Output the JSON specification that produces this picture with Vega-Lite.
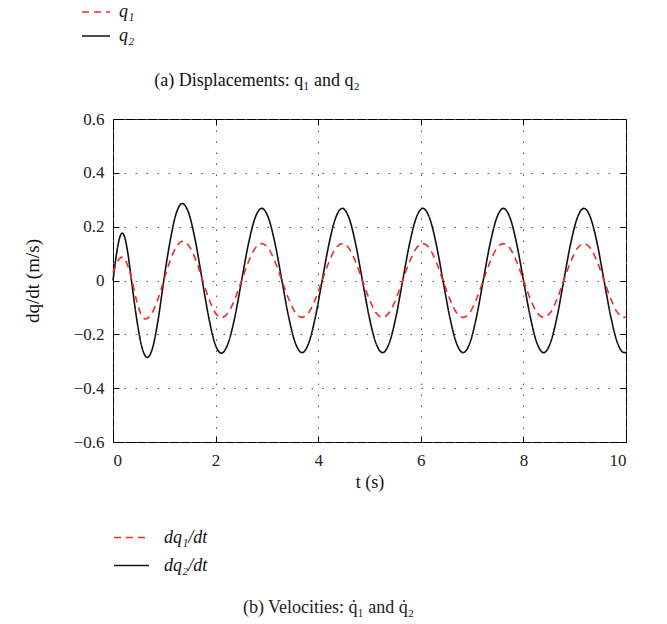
{
  "$schema": "https://vega.github.io/schema/vega-lite/v6.json",
  "width": 513,
  "height": 323,
  "autosize": {"type": "none"},
  "padding": {"left": 113, "top": 119, "right": 41, "bottom": 182},
  "background": "white",
  "config": {
    "font": "Liberation Serif",
    "view": {"stroke": "#000", "strokeWidth": 1},
    "axis": {
      "labelFont": "Liberation Serif",
      "labelFontSize": 17,
      "labelColor": "#222",
      "titleFont": "Liberation Serif",
      "titleFontSize": 18,
      "titleFontWeight": "normal",
      "titleColor": "#111",
      "domain": false,
      "tickColor": "#000",
      "tickSize": -6,
      "tickWidth": 1,
      "gridColor": "#555",
      "gridDash": [1.5, 9.5],
      "gridWidth": 1,
      "gridOpacity": 1
    },
    "legend": {
      "labelFont": "Liberation Serif",
      "labelFontSize": 18,
      "labelFontStyle": "italic",
      "labelColor": "#111",
      "padding": 0
    }
  },
  "data": {
    "values": [
      {"t": 0, "v": 0, "s": "2"}, {"t": 0.06, "v": 0.088, "s": "2"}, {"t": 0.12, "v": 0.152, "s": "2"}, {"t": 0.18, "v": 0.176, "s": "2"},
      {"t": 0.24, "v": 0.152, "s": "2"}, {"t": 0.30, "v": 0.088, "s": "2"}, {"t": 0.36, "v": 0, "s": "2"}, {"t": 0.462, "v": -0.143, "s": "2"},
      {"t": 0.564, "v": -0.248, "s": "2"}, {"t": 0.667, "v": -0.286, "s": "2"}, {"t": 0.775, "v": -0.248, "s": "2"}, {"t": 0.882, "v": -0.143, "s": "2"},
      {"t": 0.99, "v": 0, "s": "2"}, {"t": 1.11, "v": 0.143, "s": "2"}, {"t": 1.23, "v": 0.248, "s": "2"}, {"t": 1.35, "v": 0.286, "s": "2"},
      {"t": 1.48, "v": 0.248, "s": "2"}, {"t": 1.61, "v": 0.143, "s": "2"}, {"t": 1.74, "v": 0, "s": "2"}, {"t": 1.865, "v": -0.136, "s": "2"},
      {"t": 1.99, "v": -0.236, "s": "2"},
      {"t": 2.115, "v": -0.27, "s": "2"}, {"t": 2.246, "v": -0.232, "s": "2"}, {"t": 2.377, "v": -0.134, "s": "2"}, {"t": 2.507, "v": 0, "s": "2"},
      {"t": 2.638, "v": 0.134, "s": "2"}, {"t": 2.769, "v": 0.232, "s": "2"}, {"t": 2.9, "v": 0.268, "s": "2"}, {"t": 3.031, "v": 0.232, "s": "2"},
      {"t": 3.162, "v": 0.134, "s": "2"}, {"t": 3.292, "v": 0, "s": "2"}, {"t": 3.423, "v": -0.134, "s": "2"}, {"t": 3.554, "v": -0.232, "s": "2"},
      {"t": 3.685, "v": -0.268, "s": "2"}, {"t": 3.816, "v": -0.232, "s": "2"}, {"t": 3.947, "v": -0.134, "s": "2"}, {"t": 4.077, "v": 0, "s": "2"},
      {"t": 4.208, "v": 0.134, "s": "2"}, {"t": 4.339, "v": 0.232, "s": "2"}, {"t": 4.47, "v": 0.268, "s": "2"}, {"t": 4.601, "v": 0.232, "s": "2"},
      {"t": 4.732, "v": 0.134, "s": "2"}, {"t": 4.862, "v": 0, "s": "2"}, {"t": 4.993, "v": -0.134, "s": "2"}, {"t": 5.124, "v": -0.232, "s": "2"},
      {"t": 5.255, "v": -0.268, "s": "2"}, {"t": 5.386, "v": -0.232, "s": "2"}, {"t": 5.517, "v": -0.134, "s": "2"}, {"t": 5.647, "v": 0, "s": "2"},
      {"t": 5.778, "v": 0.134, "s": "2"}, {"t": 5.909, "v": 0.232, "s": "2"}, {"t": 6.04, "v": 0.268, "s": "2"}, {"t": 6.171, "v": 0.232, "s": "2"},
      {"t": 6.302, "v": 0.134, "s": "2"}, {"t": 6.432, "v": 0, "s": "2"}, {"t": 6.563, "v": -0.134, "s": "2"}, {"t": 6.694, "v": -0.232, "s": "2"},
      {"t": 6.825, "v": -0.268, "s": "2"}, {"t": 6.956, "v": -0.232, "s": "2"}, {"t": 7.087, "v": -0.134, "s": "2"}, {"t": 7.217, "v": 0, "s": "2"},
      {"t": 7.348, "v": 0.134, "s": "2"}, {"t": 7.479, "v": 0.232, "s": "2"}, {"t": 7.61, "v": 0.268, "s": "2"}, {"t": 7.741, "v": 0.232, "s": "2"},
      {"t": 7.872, "v": 0.134, "s": "2"}, {"t": 8.002, "v": 0, "s": "2"}, {"t": 8.133, "v": -0.134, "s": "2"}, {"t": 8.264, "v": -0.232, "s": "2"},
      {"t": 8.395, "v": -0.268, "s": "2"}, {"t": 8.526, "v": -0.232, "s": "2"}, {"t": 8.657, "v": -0.134, "s": "2"}, {"t": 8.787, "v": 0, "s": "2"},
      {"t": 8.918, "v": 0.134, "s": "2"}, {"t": 9.049, "v": 0.232, "s": "2"}, {"t": 9.18, "v": 0.268, "s": "2"}, {"t": 9.311, "v": 0.232, "s": "2"},
      {"t": 9.442, "v": 0.134, "s": "2"}, {"t": 9.572, "v": 0, "s": "2"}, {"t": 9.703, "v": -0.134, "s": "2"}, {"t": 9.834, "v": -0.232, "s": "2"},
      {"t": 9.965, "v": -0.268, "s": "2"}, {"t": 10, "v": -0.267, "s": "2"},

      {"t": 0, "v": 0.03, "s": "1"}, {"t": 0.06, "v": 0.058, "s": "1"}, {"t": 0.12, "v": 0.08, "s": "1"}, {"t": 0.18, "v": 0.087, "s": "1"},
      {"t": 0.243, "v": 0.075, "s": "1"}, {"t": 0.307, "v": 0.044, "s": "1"}, {"t": 0.37, "v": 0, "s": "1"}, {"t": 0.457, "v": -0.072, "s": "1"},
      {"t": 0.543, "v": -0.124, "s": "1"}, {"t": 0.63, "v": -0.143, "s": "1"}, {"t": 0.75, "v": -0.124, "s": "1"}, {"t": 0.87, "v": -0.072, "s": "1"},
      {"t": 0.99, "v": 0, "s": "1"}, {"t": 1.113, "v": 0.073, "s": "1"}, {"t": 1.237, "v": 0.126, "s": "1"}, {"t": 1.36, "v": 0.146, "s": "1"},
      {"t": 1.49, "v": 0.126, "s": "1"}, {"t": 1.62, "v": 0.073, "s": "1"}, {"t": 1.75, "v": 0, "s": "1"}, {"t": 1.872, "v": -0.069, "s": "1"},
      {"t": 1.993, "v": -0.12, "s": "1"},
      {"t": 2.115, "v": -0.138, "s": "1"}, {"t": 2.246, "v": -0.119, "s": "1"}, {"t": 2.377, "v": -0.068, "s": "1"}, {"t": 2.507, "v": 0, "s": "1"},
      {"t": 2.638, "v": 0.068, "s": "1"}, {"t": 2.769, "v": 0.119, "s": "1"}, {"t": 2.9, "v": 0.137, "s": "1"}, {"t": 3.031, "v": 0.119, "s": "1"},
      {"t": 3.162, "v": 0.068, "s": "1"}, {"t": 3.292, "v": 0, "s": "1"}, {"t": 3.423, "v": -0.068, "s": "1"}, {"t": 3.554, "v": -0.119, "s": "1"},
      {"t": 3.685, "v": -0.137, "s": "1"}, {"t": 3.816, "v": -0.119, "s": "1"}, {"t": 3.947, "v": -0.068, "s": "1"}, {"t": 4.077, "v": 0, "s": "1"},
      {"t": 4.208, "v": 0.068, "s": "1"}, {"t": 4.339, "v": 0.119, "s": "1"}, {"t": 4.47, "v": 0.137, "s": "1"}, {"t": 4.601, "v": 0.119, "s": "1"},
      {"t": 4.732, "v": 0.068, "s": "1"}, {"t": 4.862, "v": 0, "s": "1"}, {"t": 4.993, "v": -0.068, "s": "1"}, {"t": 5.124, "v": -0.119, "s": "1"},
      {"t": 5.255, "v": -0.137, "s": "1"}, {"t": 5.386, "v": -0.119, "s": "1"}, {"t": 5.517, "v": -0.068, "s": "1"}, {"t": 5.647, "v": 0, "s": "1"},
      {"t": 5.778, "v": 0.068, "s": "1"}, {"t": 5.909, "v": 0.119, "s": "1"}, {"t": 6.04, "v": 0.137, "s": "1"}, {"t": 6.171, "v": 0.119, "s": "1"},
      {"t": 6.302, "v": 0.068, "s": "1"}, {"t": 6.432, "v": 0, "s": "1"}, {"t": 6.563, "v": -0.068, "s": "1"}, {"t": 6.694, "v": -0.119, "s": "1"},
      {"t": 6.825, "v": -0.137, "s": "1"}, {"t": 6.956, "v": -0.119, "s": "1"}, {"t": 7.087, "v": -0.068, "s": "1"}, {"t": 7.217, "v": 0, "s": "1"},
      {"t": 7.348, "v": 0.068, "s": "1"}, {"t": 7.479, "v": 0.119, "s": "1"}, {"t": 7.61, "v": 0.137, "s": "1"}, {"t": 7.741, "v": 0.119, "s": "1"},
      {"t": 7.872, "v": 0.068, "s": "1"}, {"t": 8.002, "v": 0, "s": "1"}, {"t": 8.133, "v": -0.068, "s": "1"}, {"t": 8.264, "v": -0.119, "s": "1"},
      {"t": 8.395, "v": -0.137, "s": "1"}, {"t": 8.526, "v": -0.119, "s": "1"}, {"t": 8.657, "v": -0.068, "s": "1"}, {"t": 8.787, "v": 0, "s": "1"},
      {"t": 8.918, "v": 0.068, "s": "1"}, {"t": 9.049, "v": 0.119, "s": "1"}, {"t": 9.18, "v": 0.137, "s": "1"}, {"t": 9.311, "v": 0.119, "s": "1"},
      {"t": 9.442, "v": 0.068, "s": "1"}, {"t": 9.572, "v": 0, "s": "1"}, {"t": 9.703, "v": -0.068, "s": "1"}, {"t": 9.834, "v": -0.119, "s": "1"},
      {"t": 9.965, "v": -0.137, "s": "1"}, {"t": 10, "v": -0.136, "s": "1"}
    ]
  },
  "layer": [
    {
      "mark": {"type": "line", "strokeWidth": 1.6, "interpolate": "monotone"},
      "encoding": {
        "x": {
          "field": "t", "type": "quantitative",
          "scale": {"domain": [0, 10], "nice": false, "zero": false},
          "axis": {"orient": "bottom", "values": [0, 2, 4, 6, 8, 10], "format": "d", "grid": true, "labelPadding": 16,
                   "title": "t (s)", "titleFontSize": 18, "titleY": 40, "titleBaseline": "middle"}
        },
        "y": {
          "field": "v", "type": "quantitative",
          "scale": {"domain": [-0.6, 0.6], "nice": false, "zero": false},
          "axis": {"orient": "left", "values": [-0.6, -0.4, -0.2, 0, 0.2, 0.4, 0.6], "format": ".1~f", "grid": true, "labelPadding": 15,
                   "title": "dq/dt  (m/s)", "titleFontSize": 19, "titleX": -81, "titleY": 161.5, "titleBaseline": "middle", "titleAngle": -90}
        },
        "color": {
          "field": "s", "type": "nominal",
          "scale": {"domain": ["1", "2"], "range": ["#f22a2a", "#111111"]},
          "legend": {"title": null, "orient": "none", "legendX": 0, "legendY": 400, "symbolType": "stroke", "symbolSize": 1225,
                     "symbolStrokeWidth": 1.5, "labelOffset": 14, "rowPadding": 0,
                     "labelExpr": "datum.value == '1' ? 'dq₁/dt' : 'dq₂/dt'"}
        },
        "strokeDash": {
          "field": "s", "type": "nominal",
          "scale": {"domain": ["1", "2"], "range": [[7, 5], [1, 0]]},
          "legend": {"title": null, "orient": "none", "legendX": 0, "legendY": 400, "symbolType": "stroke", "symbolSize": 1225,
                     "symbolStrokeWidth": 1.5, "labelOffset": 14, "rowPadding": 0,
                     "labelExpr": "datum.value == '1' ? 'dq₁/dt' : 'dq₂/dt'"}
        }
      }
    },
    {
      "mark": {"type": "line", "strokeWidth": 1.6, "interpolate": "monotone", "opacity": 0},
      "encoding": {
        "x": {
          "field": "t", "type": "quantitative",
          "axis": {"orient": "top", "values": [0, 2, 4, 6, 8, 10], "labels": false, "grid": false,
                   "title": "(a)  Displacements: q₁ and q₂", "titleFontSize": 18, "titleX": 143.5, "titleY": -39, "titleBaseline": "middle", "titleAnchor": null, "titleAlign": "center"}
        },
        "y": {
          "field": "v", "type": "quantitative",
          "axis": {"orient": "right", "values": [-0.6, -0.4, -0.2, 0, 0.2, 0.4, 0.6], "labels": false, "grid": false, "title": null}
        },
        "color": {
          "field": "s", "type": "nominal",
          "scale": {"domain": ["1", "2"], "range": ["#f22a2a", "#111111"]},
          "legend": {"title": null, "orient": "none", "legendX": -32, "legendY": -122, "symbolType": "stroke", "symbolSize": 784,
                     "symbolStrokeWidth": 1.5, "labelOffset": 8, "rowPadding": -2,
                     "labelExpr": "datum.value == '1' ? 'q₁' : 'q₂'",
                     "encode": {"symbols": {"update": {"opacity": {"value": 1}}}}}
        },
        "strokeDash": {
          "field": "s", "type": "nominal",
          "scale": {"domain": ["1", "2"], "range": [[7, 5], [1, 0]]},
          "legend": {"title": null, "orient": "none", "legendX": -32, "legendY": -122, "symbolType": "stroke", "symbolSize": 784,
                     "symbolStrokeWidth": 1.5, "labelOffset": 8, "rowPadding": -2,
                     "labelExpr": "datum.value == '1' ? 'q₁' : 'q₂'",
                     "encode": {"symbols": {"update": {"opacity": {"value": 1}}}}}
        }
      }
    }
  ],
  "resolve": {
    "scale": {"color": "independent", "strokeDash": "independent"},
    "axis": {"x": "independent", "y": "independent"}
  },
  "title": {
    "text": "(b)  Velocities: q̇₁ and q̇₂",
    "orient": "bottom",
    "anchor": "middle",
    "font": "Liberation Serif",
    "fontSize": 18,
    "fontWeight": "normal",
    "color": "#222",
    "dx": -41,
    "offset": 24
  }
}
